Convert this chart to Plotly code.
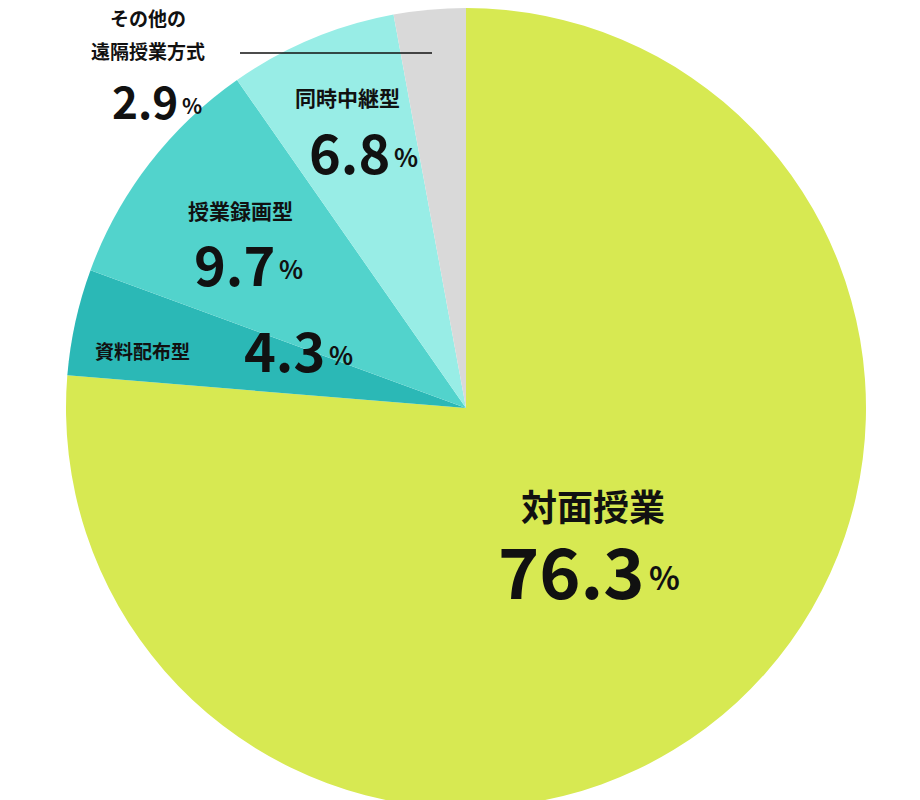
import plotly.graph_objects as go

labels = ["対面授業", "資料配布型", "授業録画型", "同時中継型", "その他の遠隔授業方式"]
values = [76.3, 4.3, 9.7, 6.8, 2.9]
colors = ["#d7e952", "#2bb8b6", "#52d3cc", "#98ede6", "#d9d9d9"]

W, H = 920, 800
FONT = "Noto Sans CJK JP"
OFF = 8  # browser body margin

fig = go.Figure(go.Pie(
    labels=labels, values=values, sort=False, direction="clockwise", rotation=0,
    marker=dict(colors=colors, line=dict(width=0)),
    textinfo="none", hoverinfo="label+percent", showlegend=False,
    domain=dict(x=[58 / W, 858 / W], y=[0, 1]),
))


def px(x, y):
    return (x - OFF) / W, 1 - (y - OFF) / H


def text(x, y, t, size, anchor="center"):
    xx, yy = px(x, y)
    fig.add_annotation(
        x=xx, y=yy, xref="paper", yref="paper", showarrow=False,
        xanchor=anchor, yanchor="middle", text=f"<b>{t}</b>",
        font=dict(family=FONT, size=size, color="#111111"),
    )


def number(x_right, y, v, big, small):
    text(x_right, y, v, big, "right")
    text(x_right, y + big * 0.12, "%", small, "left")


text(593, 505, labels[0], 36)
number(647, 568, values[0], 70, 32)
text(142, 350, labels[1], 19)
number(327, 348, values[1], 54, 25)
text(241, 210, labels[2], 21)
number(277, 262, values[2], 54, 25)
text(347, 97, labels[3], 21)
number(392, 150, values[3], 54, 25)
text(148, 18, "その他の", 19)
text(148, 51, "遠隔授業方式", 19)
number(180, 100, values[4], 44, 21)

x0, y0 = px(240, 53)
x1, _ = px(432, 53)
fig.add_shape(type="line", xref="paper", yref="paper", x0=x0, x1=x1, y0=y0, y1=y0,
              line=dict(color="#111111", width=1.5))

fig.update_layout(width=W, height=H, margin=dict(l=0, r=0, t=0, b=0),
                  paper_bgcolor="white", plot_bgcolor="white")
fig.write_html("out.html")
